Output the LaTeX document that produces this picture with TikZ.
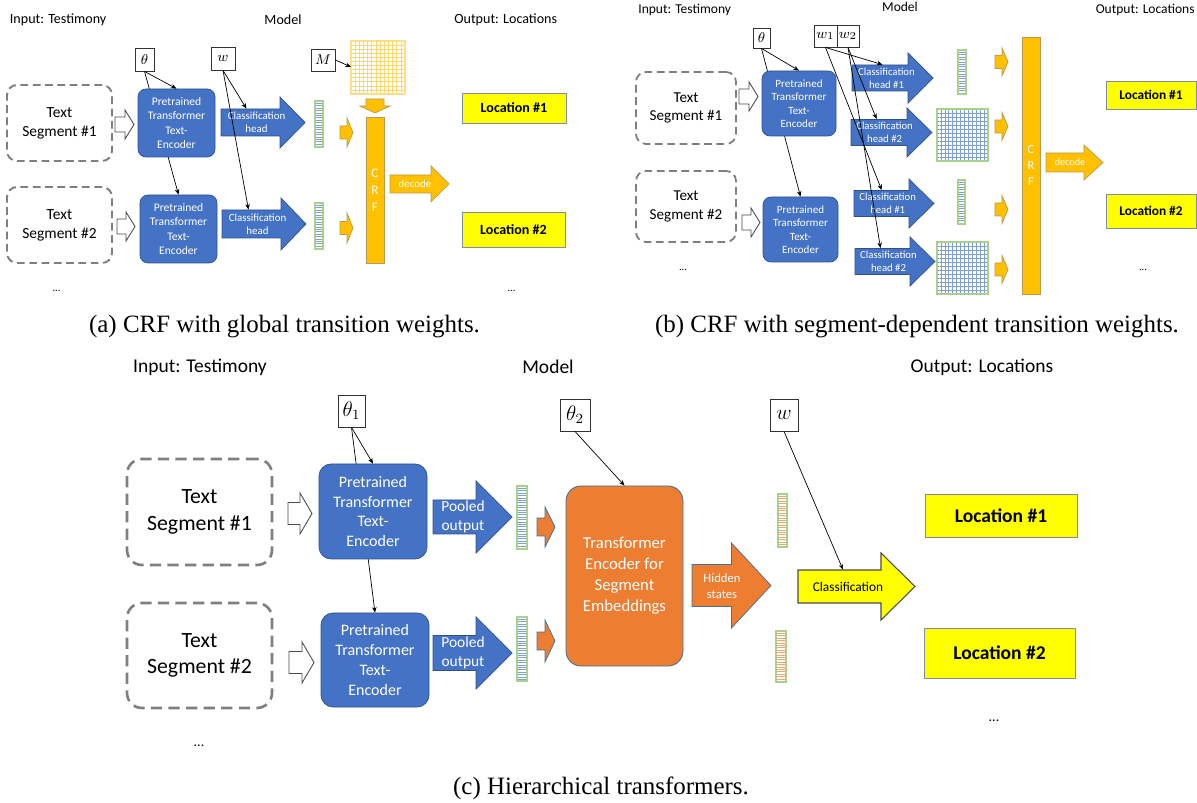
\documentclass[tikz,border=0pt]{standalone}
\usepackage{fontspec}
\setmainfont{Carlito}
\newfontfamily\capfont{Liberation Serif}
\usetikzlibrary{arrows.meta}
\pgfdeclarelayer{behind}
\pgfsetlayers{behind,main}

\definecolor{encblue}{HTML}{4472C4}
\definecolor{encedge}{HTML}{2F528F}
\definecolor{crfgold}{HTML}{FFC000}
\definecolor{goldedge}{HTML}{B89A50}
\definecolor{gridgold}{HTML}{FFD66B}
\definecolor{hierorange}{HTML}{ED7D31}
\definecolor{boxedge}{HTML}{41719C}
\definecolor{locedge}{HTML}{7A8FA8}
\definecolor{vecgreen}{HTML}{A9D18E}
\definecolor{stripeblue}{HTML}{7F9FD8}
\definecolor{stripeorange}{HTML}{F4A46E}
\definecolor{locyellow}{HTML}{FFFF00}
\definecolor{seggrey}{HTML}{7F7F7F}

\newcommand{\px}{0.02cm}
\newcommand{\fsz}[2]{\fontsize{#1}{#2}\selectfont}

% block arrow: style, x1, x2, y, body half, head half, head length
\newcommand{\blockarrow}[7][]{%
  \filldraw[#1] (#2,#4-#5) -- (#3-#7,#4-#5) -- (#3-#7,#4-#6) -- (#3,#4)
    -- (#3-#7,#4+#6) -- (#3-#7,#4+#5) -- (#2,#4+#5) -- cycle;}

% striped vector: x1, y1, x2, y2, colour, gap
\newcommand{\stripes}[6]{%
  \filldraw[fill=white, draw=vecgreen, line width=0.6pt] (#1,#2) rectangle (#3,#4);
  \pgfmathtruncatemacro{\nstripe}{(#4-#2)/#6-0.5}%
  \foreach \k in {1,...,\nstripe}
    \draw[#5, line width=0.35pt] (#1+0.8,#2+\k*#6) -- (#3-0.8,#2+\k*#6);
}

% grid matrix: x1, y1, x2, y2, line colour, edge colour, cells
\newcommand{\cells}[7]{%
  \fill[white] (#1,#2) rectangle (#3,#4);
  \pgfmathsetmacro{\cellw}{(#3-#1)/#7}%
  \pgfmathsetmacro{\cellh}{(#4-#2)/#7}%
  \pgfmathtruncatemacro{\ncell}{#7-1}%
  \foreach \k in {1,...,\ncell}{
    \draw[#5, line width=0.35pt] (#1+\k*\cellw,#2) -- (#1+\k*\cellw,#4);
    \draw[#5, line width=0.35pt] (#1,#2+\k*\cellh) -- (#3,#2+\k*\cellh);
  }
  \draw[#6, line width=0.6pt] (#1,#2) rectangle (#3,#4);
}

\tikzset{
  par/.style={-{Stealth[length=3.2pt,width=2.6pt]}, line width=0.4pt},
  parbox/.style={draw=black!80, fill=white, line width=0.5pt, inner sep=0pt},
  segbox/.style={draw=seggrey, fill=white, align=center, inner sep=0pt},
  encbox/.style={fill=encblue, draw=encedge, line width=0.4pt, text=white, align=center, inner sep=0pt},
  hollow/.style={fill=white, draw=black!70, line width=0.5pt},
  bluearrow/.style={fill=encblue, draw=encedge, line width=0.4pt},
  goldarrow/.style={fill=crfgold, draw=goldedge, line width=0.4pt},
  orangearrow/.style={fill=hierorange, draw=boxedge, line width=0.4pt},
  yellowarrow/.style={fill=locyellow, draw=black!70, line width=0.6pt},
  intext/.style={text=white, align=center, inner sep=0pt},
  locbox/.style={fill=locyellow, draw=locedge, line width=0.5pt, inner sep=0pt},
  crfbar/.style={fill=crfgold, draw=goldedge, line width=0.4pt, text=white, align=center, inner sep=0pt},
  caption/.style={font={\capfont\fsz{14.2}{17}}},
}

\begin{document}
\begin{tikzpicture}[x=0.02cm, y=-0.02cm]
\useasboundingbox (0,0) rectangle (1197,803);

%%%%% (a) CRF with global transition weights
\node[font={\fsz{8}{9.6}}, anchor=west, inner sep=0pt] (inA) at (9.6,20) {Input: Testimony};
\node[font={\fsz{8}{9.6}}] (modA) at (283,20) {Model};
\node[font={\fsz{8}{9.6}}, anchor=west, inner sep=0pt] (outA) at (454,20) {Output: Locations};

\node[parbox, minimum width=19*\px, minimum height=23*\px, font={\fsz{8.5}{9}}] (thA) at (144.5,59.5) {$\theta$};
\node[parbox, minimum width=24*\px, minimum height=23*\px, font={\fsz{8.5}{9}}] (wA) at (223,58.5) {$w$};
\node[parbox, minimum width=24*\px, minimum height=22*\px, font={\fsz{8.5}{9}}] (mA) at (323,60) {$M$};

\node[segbox, line width=1.1pt, dash pattern=on 4.4pt off 2.6pt, rounded corners=0.2cm,
  minimum width=105*\px, minimum height=76*\px, font={\fsz{8.8}{10.8}}] (segA1) at (59.5,123) {Text\\Segment \#1};
\node[segbox, line width=1.1pt, dash pattern=on 4.4pt off 2.6pt, rounded corners=0.2cm,
  minimum width=105*\px, minimum height=76*\px, font={\fsz{8.8}{10.8}}] (segA2) at (59.5,225) {Text\\Segment \#2};

\blockarrow[hollow]{115}{134}{124.5}{7.5}{14.5}{9}
\blockarrow[hollow]{117}{135}{226.5}{7.5}{14.5}{9}

\node[encbox, rounded corners=0.16cm, minimum width=77*\px, minimum height=68*\px,
  font={\fsz{6.6}{8.1}}] (encA1) at (176.5,123) {Pretrained\\Transformer\\Text-\\Encoder};
\node[encbox, rounded corners=0.16cm, minimum width=77*\px, minimum height=68*\px,
  font={\fsz{6.6}{8.1}}] (encA2) at (178.5,229) {Pretrained\\Transformer\\Text-\\Encoder};

\blockarrow[bluearrow]{221}{305}{122.5}{13.5}{25.5}{25}
\node[intext, minimum height=27*\px, font={\fsz{6.2}{7.6}}] (chA1) at (256.5,122.5) {Classification\\head};
\blockarrow[bluearrow]{222}{306}{224}{14}{26}{25}
\node[intext, minimum height=28*\px, font={\fsz{6.2}{7.6}}] (chA2) at (257.5,224) {Classification\\head};

\stripes{315}{101}{323}{147}{stripeblue}{2.4}
\stripes{315}{203}{323}{249}{stripeblue}{2.4}

\blockarrow[goldarrow]{340}{353}{132.5}{6.5}{14.5}{6}
\blockarrow[goldarrow]{340}{353}{228}{6.5}{15}{6}

\cells{351}{41}{405}{94}{gridgold}{gridgold!80}{13}
\coordinate (gridA) at (351,67);
\filldraw[goldarrow] (366,99) -- (384,99) -- (384,106) -- (390,106) -- (375,113)
  -- (360,106) -- (366,106) -- cycle;

\node[crfbar, minimum width=18*\px, minimum height=146*\px, font={\fsz{7.5}{9.6}}] (crfA) at (375,190) {C\\R\\F};

\blockarrow[goldarrow]{390}{449}{184}{9}{18}{18}
\node[intext, font={\fsz{6.2}{7.4}}] (decA) at (415,184) {decode};

\node[locbox, minimum width=104*\px, minimum height=30*\px, font={\fsz{8}{9.6}\bfseries}] (locA1) at (514,108) {Location \#1};
\node[locbox, minimum width=103*\px, minimum height=35*\px, font={\fsz{8}{9.6}\bfseries}] (locA2) at (513.5,229.5) {Location \#2};

\node[font={\fsz{6}{7}}] (dotsA1) at (56.5,291) {...};
\node[font={\fsz{6}{7}}] (dotsA2) at (511.5,291) {...};

\begin{pgfonlayer}{behind}
\draw[par] (thA.south) -- (encA2.north);
\end{pgfonlayer}
\draw[par] (thA.south) -- (encA1.north);
\draw[par] (wA.south) -- ([xshift=-10*\px]chA1.north);
\draw[par] (wA.south) -- ([xshift=-9*\px]chA2.north);
\draw[par] (mA.east) -- (gridA);

\node[caption] (capA) at (284.5,327) {(a) CRF with global transition weights.};

%%%%% (b) CRF with segment-dependent transition weights
\node[font={\fsz{7.7}{9.2}}, anchor=west, inner sep=0pt] (inB) at (638,10) {Input: Testimony};
\node[font={\fsz{7.7}{9.2}}] (modB) at (900,7) {Model};
\node[font={\fsz{7.7}{9.2}}, anchor=east, inner sep=0pt] (outB) at (1195,10) {Output: Locations};

\node[parbox, minimum width=17*\px, minimum height=20*\px, font={\fsz{8}{9}}] (thB) at (761.5,38) {$\theta$};
\node[parbox, minimum width=23*\px, minimum height=22*\px, font={\fsz{8}{9}}] (wB1) at (825.5,36) {$w_1$};
\node[parbox, minimum width=22*\px, minimum height=22*\px, font={\fsz{8}{9}}] (wB2) at (848,36) {$w_2$};

\node[segbox, line width=1.05pt, dash pattern=on 4.4pt off 2.6pt, rounded corners=0.2cm,
  minimum width=100*\px, minimum height=72*\px, font={\fsz{8.6}{10.4}}] (segB1) at (686,108) {Text\\Segment \#1};
\node[segbox, line width=1.05pt, dash pattern=on 4.4pt off 2.6pt, rounded corners=0.2cm,
  minimum width=100*\px, minimum height=71*\px, font={\fsz{8.6}{10.4}}] (segB2) at (686,206.5) {Text\\Segment \#2};

\blockarrow[hollow]{739}{758}{96.5}{7.5}{14.5}{9}
\blockarrow[hollow]{742}{760}{222.5}{7.5}{14.5}{9}

\node[encbox, rounded corners=0.16cm, minimum width=74*\px, minimum height=65*\px,
  font={\fsz{6.3}{7.7}}] (encB1) at (799,103.5) {Pretrained\\Transformer\\Text-\\Encoder};
\node[encbox, rounded corners=0.16cm, minimum width=75*\px, minimum height=65*\px,
  font={\fsz{6.3}{7.7}}] (encB2) at (800.5,229.5) {Pretrained\\Transformer\\Text-\\Encoder};

\blockarrow[bluearrow]{852}{933}{78}{13}{25}{25}
\node[intext, minimum height=26*\px, font={\fsz{6.1}{7.4}}] (chB1) at (886.5,78) {Classification\\head \#1};
\blockarrow[bluearrow]{851}{932}{132.5}{13}{24.5}{25}
\node[intext, minimum height=26*\px, font={\fsz{6.1}{7.4}}] (chB2) at (884.6,132.5) {Classification\\head \#2};
\blockarrow[bluearrow]{854}{934}{203.5}{13}{24.5}{25}
\node[intext, minimum height=26*\px, font={\fsz{6.1}{7.4}}] (chB3) at (887.7,203.5) {Classification\\head \#1};
\blockarrow[bluearrow]{855}{935}{261.5}{13}{24.5}{25}
\node[intext, minimum height=26*\px, font={\fsz{6.1}{7.4}}] (chB4) at (888.5,261.5) {Classification\\head \#2};

\stripes{958}{50}{966}{94}{stripeblue}{2.4}
\cells{937}{109}{988}{161}{stripeblue}{vecgreen}{13}
\stripes{958}{180}{965}{224}{stripeblue}{2.4}
\cells{937}{242}{988}{294}{stripeblue}{vecgreen}{13}

\blockarrow[goldarrow]{995}{1008}{62}{6.5}{14}{6}
\blockarrow[goldarrow]{995}{1008}{126.5}{6.5}{14}{6}
\blockarrow[goldarrow]{995}{1008}{209.5}{6.5}{14}{6}
\blockarrow[goldarrow]{995}{1008}{269.5}{6.5}{14}{6}

\node[crfbar, minimum width=18*\px, minimum height=257*\px, font={\fsz{7}{9.2}}] (crfB) at (1031,165.5) {C\\R\\F};

\blockarrow[goldarrow]{1046}{1103}{162.5}{9.5}{17.5}{19}
\node[intext, font={\fsz{5.8}{7}}] (decB) at (1070,162.5) {decode};

\node[locbox, minimum width=90*\px, minimum height=28*\px, font={\fsz{7.6}{9}\bfseries}] (locB1) at (1151,95) {Location \#1};
\node[locbox, minimum width=90*\px, minimum height=34*\px, font={\fsz{7.6}{9}\bfseries}] (locB2) at (1151,211) {Location \#2};

\node[font={\fsz{6}{7}}] (dotsB1) at (683,270) {...};
\node[font={\fsz{6}{7}}] (dotsB2) at (1143,270) {...};

\begin{pgfonlayer}{behind}
\draw[par] (thB.south) -- (encB2.north);
\end{pgfonlayer}
\draw[par] (thB.south) -- (encB1.north);
\draw[par] (wB1.south) -- ([xshift=-4*\px]chB1.north);
\draw[par] (wB1.south) -- ([xshift=-6*\px]chB3.north);
\draw[par] (wB2.south) -- ([xshift=-8*\px]chB2.north);
\draw[par] (wB2.south) -- ([xshift=-8*\px]chB4.north);

\node[caption] (capB) at (917,327) {(b) CRF with segment-dependent transition weights.};

%%%%% (c) Hierarchical transformers
\node[font={\fsz{11.1}{13}}] (inC) at (200,367) {Input: Testimony};
\node[font={\fsz{11.1}{13}}] (modC) at (548,367) {Model};
\node[font={\fsz{11.1}{13}}] (outC) at (982,367) {Output: Locations};

\node[parbox, minimum width=27*\px, minimum height=32*\px, font={\fsz{12}{13}}] (thC1) at (351.5,411) {$\theta_1$};
\node[parbox, minimum width=30*\px, minimum height=32*\px, font={\fsz{12}{13}}] (thC2) at (575,415) {$\theta_2$};
\node[parbox, minimum width=28*\px, minimum height=32*\px, font={\fsz{12}{13}}] (wC) at (784,415) {$w$};

\node[segbox, line width=1.5pt, dash pattern=on 6.4pt off 3.6pt, rounded corners=0.3cm,
  minimum width=145*\px, minimum height=106*\px, font={\fsz{12.4}{15.1}}] (segC1) at (199.5,512) {Text\\Segment \#1};
\node[segbox, line width=1.5pt, dash pattern=on 6.4pt off 3.6pt, rounded corners=0.3cm,
  minimum width=145*\px, minimum height=105*\px, font={\fsz{12.4}{15.1}}] (segC2) at (199.5,655.5) {Text\\Segment \#2};

\blockarrow[hollow]{288}{312}{513.5}{11}{20.5}{12}
\blockarrow[hollow]{289}{314}{662.5}{11}{20.5}{12}

\node[encbox, rounded corners=0.24cm, minimum width=108*\px, minimum height=95*\px,
  font={\fsz{9.1}{11.3}}] (encC1) at (373,511.5) {Pretrained\\Transformer\\Text-\\Encoder};
\node[encbox, rounded corners=0.24cm, minimum width=108*\px, minimum height=94*\px,
  font={\fsz{9.1}{11.3}}] (encC2) at (375,660) {Pretrained\\Transformer\\Text-\\Encoder};

\blockarrow[bluearrow]{433}{512}{517}{17}{36}{36}
\node[intext, font={\fsz{8.8}{11}}] (poolC1) at (463,517) {Pooled\\output};
\blockarrow[bluearrow]{433}{512}{653}{17.5}{36}{36}
\node[intext, font={\fsz{8.8}{11}}] (poolC2) at (463,653) {Pooled\\output};

\stripes{517}{486}{527}{549}{stripeblue}{2.4}
\stripes{517}{617}{527}{681}{stripeblue}{2.4}

\blockarrow[orangearrow]{537}{555}{527}{9}{20}{10}
\blockarrow[orangearrow]{537}{555}{641}{9}{21}{10}

\node[fill=hierorange, draw=boxedge, line width=0.5pt, rounded corners=0.3cm, text=white, align=center,
  minimum width=117*\px, minimum height=180*\px, inner sep=0pt, font={\fsz{9.5}{11.9}}] (segenc) at (624.5,576)
  {Transformer\\Encoder for\\Segment\\Embeddings};

\blockarrow[orangearrow]{692}{771}{585.5}{21}{42.5}{39.5}
\node[intext, font={\fsz{7.2}{8.9}}] (hidC) at (722,586) {Hidden\\states};

\stripes{778}{494}{787}{547}{stripeorange}{2.4}
\stripes{776}{631}{786}{682}{stripeorange}{2.4}

\blockarrow[yellowarrow]{798}{915}{586.5}{16.5}{33.5}{34}
\node[inner sep=0pt, minimum height=33*\px, font={\fsz{7.6}{9}}] (clsC) at (848,586.5) {Classification};

\node[locbox, minimum width=152*\px, minimum height=43*\px, font={\fsz{11.1}{13}\bfseries}] (locC1) at (1001,515.5) {Location \#1};
\node[locbox, minimum width=151*\px, minimum height=50*\px, font={\fsz{11.1}{13}\bfseries}] (locC2) at (999.5,653) {Location \#2};

\node[font={\fsz{8}{9}}] (dotsC1) at (199,746) {...};
\node[font={\fsz{8}{9}}] (dotsC2) at (994,721) {...};

\begin{pgfonlayer}{behind}
\draw[par] (thC1.south) -- (encC2.north);
\end{pgfonlayer}
\draw[par] (thC1.south) -- (encC1.north);
\draw[par] (thC2.south) -- (segenc.north);
\draw[par] (wC.south) -- ([xshift=-5*\px]clsC.north);

\node[caption] (capC) at (601,788) {(c) Hierarchical transformers.};

\end{tikzpicture}
\end{document}
